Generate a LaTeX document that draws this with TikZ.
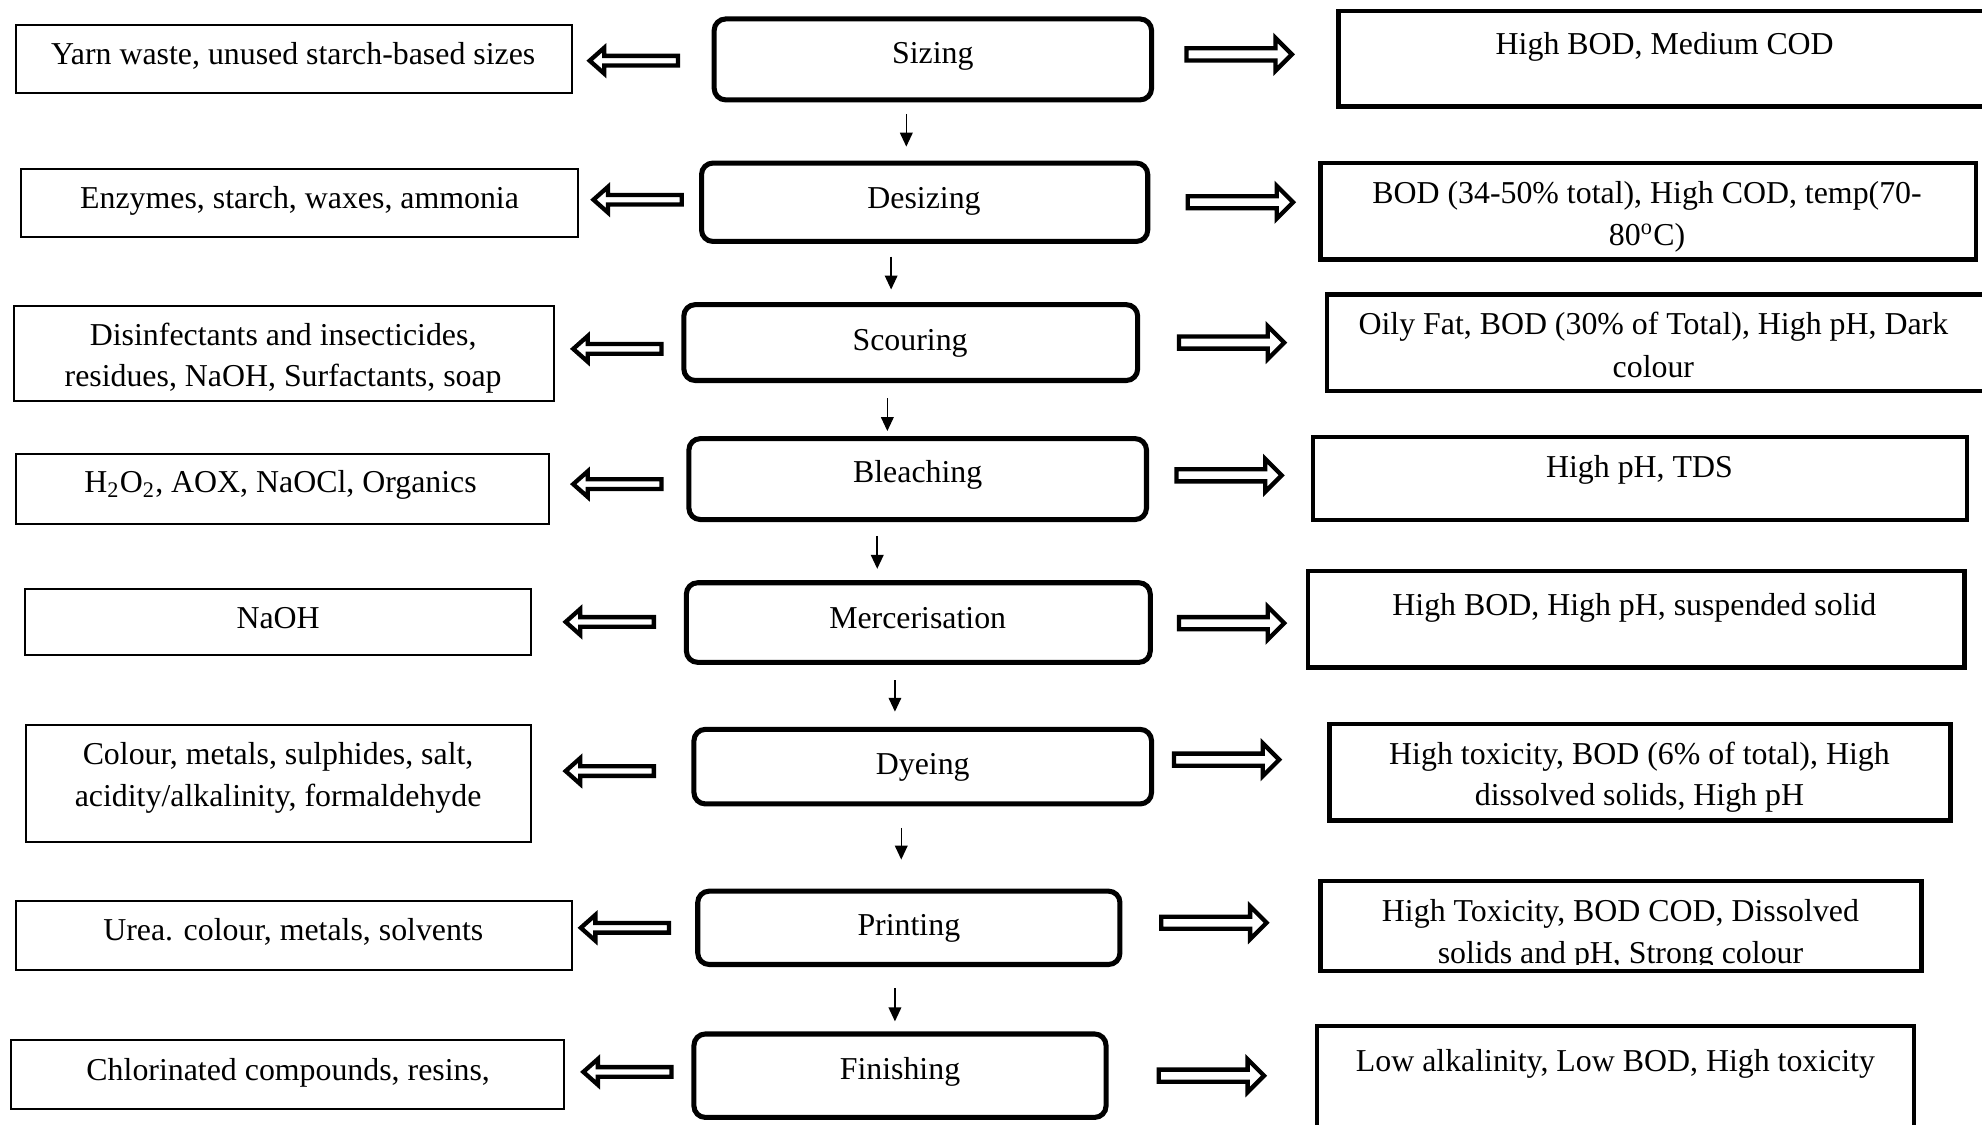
\documentclass[tikz,border=0pt]{standalone}
\usepackage{fontspec}
\setmainfont{Liberation Serif}
\usetikzlibrary{fit,arrows.meta}
\tikzset{
  cbox/.style={draw, line width=2pt, rounded corners=4.5pt, inner sep=0pt},
  lbox/.style={draw, line width=0.8pt, inner sep=0pt},
  rbox/.style={draw, line width=1.8pt, inner sep=0pt},
  txt/.style={inner sep=0pt, anchor=base, font=\fontsize{12.6}{15}\selectfont},
  harrow/.style={draw, fill=white, line width=1.7pt, line join=miter},
  darrow/.style={line width=0.6pt, -{Triangle[length=5.5pt,width=5pt]}},
}
\newcommand\rightblock[1]{\draw[harrow, shift={(#1)}] (1.7,-4.8) -- (72,-4.8) -- (72,-13) -- (85,0) -- (72,13) -- (72,4.8) -- (1.7,4.8) -- cycle;}
\newcommand\leftblock[1]{\draw[harrow, shift={(#1)}, xscale=-1] (1.7,-3.8) -- (60,-3.8) -- (60,-10.2) -- (71.5,0) -- (60,10.2) -- (60,3.8) -- (1.7,3.8) -- cycle;}
\begin{document}
\begin{tikzpicture}[x=0.5pt,y=-0.5pt]
\clip (0,0) rectangle (1568,890);
\fill[white] (0,0) rectangle (1568,890);

% centre process boxes
\node[cbox, fit={(565,15) (911,79)}] (C1) {};
\node[cbox, fit={(555,129) (908,191)}] (C2) {};
\node[cbox, fit={(541,241) (900,301)}] (C3) {};
\node[cbox, fit={(545,347) (907,411)}] (C4) {};
\node[cbox, fit={(543,461) (910,524)}] (C5) {};
\node[cbox, fit={(549,577) (911,636)}] (C6) {};
\node[cbox, fit={(552,705) (886,763)}] (C7) {};
\node[cbox, fit={(549,818) (875,884)}] (C8) {};

\node[txt] (tC1) at (738,50) {Sizing};
\node[txt] (tC2) at (731,165) {Desizing};
\node[txt] (tC3) at (720,277) {Scouring};
\node[txt] (tC4) at (726,382) {Bleaching};
\node[txt] (tC5) at (726,497) {Mercerisation};
\node[txt] (tC6) at (730,613) {Dyeing};
\node[txt] (tC7) at (719,740) {Printing};
\node[txt] (tC8) at (712,854) {Finishing};

% left boxes
\node[lbox, fit={(12.8,19.8) (452.2,73.2)}] (L1) {};
\node[lbox, fit={(16.8,133.8) (457.2,187.2)}] (L2) {};
\node[lbox, fit={(10.8,241.8) (438.2,317.2)}] (L3) {};
\node[lbox, fit={(12.8,358.8) (434.2,414.2)}] (L4) {};
\node[lbox, fit={(19.8,465.8) (420.2,518.2)}] (L5) {};
\node[lbox, fit={(20.8,573.8) (420.2,666.2)}] (L6) {};
\node[lbox, fit={(12.8,712.8) (452.2,767.2)}] (L7) {};
\node[lbox, fit={(8.8,822.8) (446.2,877.2)}] (L8) {};

\node[txt] (tL1) at (232,51) {Yarn waste, unused starch-based sizes};
\node[txt] (tL2) at (237,165) {Enzymes, starch, waxes, ammonia};
\node[txt] (tL3a) at (224,273) {Disinfectants and insecticides,};
\node[txt] (tL3b) at (224,306) {residues, NaOH, Surfactants, soap};
\node[txt] (tL4) at (222,390) {H\textsubscript{2}O\textsubscript{2}, AOX, NaOCl, Organics};
\node[txt] (tL5) at (220,497) {NaOH};
\node[txt] (tL6a) at (220,605) {Colour, metals, sulphides, salt,};
\node[txt] (tL6b) at (220,638) {acidity/alkalinity, formaldehyde};
\node[txt] (tL7) at (232,744) {Urea. colour, metals, solvents};
\node[txt] (tL8) at (228,855) {Chlorinated compounds, resins,};

% right boxes
\node[rbox, fit={(1058.8,8.8) (1580,84.2)}] (R1) {};
\node[rbox, fit={(1044.8,128.8) (1563.2,205.2)}] (R2) {};
\node[rbox, fit={(1049.8,232.8) (1572,309.2)}] (R3) {};
\node[rbox, fit={(1038.8,345.8) (1556.2,411.2)}] (R4) {};
\node[rbox, fit={(1034.8,451.8) (1554.2,528.2)}] (R5) {};
\node[rbox, fit={(1051.8,572.8) (1543.2,649.2)}] (R6) {};
\begin{scope}
  \clip (1040,690) rectangle (1525,763);
  \node[txt] (tR7b) at (1282,762) {solids and pH, Strong colour};
\end{scope}
\node[rbox, fit={(1044.8,696.8) (1520.2,768.2)}] (R7) {};
\node[rbox, fit={(1041.8,811.8) (1514.2,900)}] (R8) {};

\node[txt] (tR1) at (1317,43) {High BOD, Medium COD};
\node[txt] (tR2a) at (1303,161) {BOD (34-50\% total), High COD, temp(70-};
\node[txt] (tR2b) at (1303,194) {80\textsuperscript{o}C)};
\node[txt] (tR3a) at (1308,265) {Oily Fat, BOD (30\% of Total), High pH, Dark};
\node[txt] (tR3b) at (1308,299) {colour};
\node[txt] (tR4) at (1297,378) {High pH, TDS};
\node[txt] (tR5) at (1293,487) {High BOD, High pH, suspended solid};
\node[txt] (tR6a) at (1297,605) {High toxicity, BOD (6\% of total), High};
\node[txt] (tR6b) at (1297,637) {dissolved solids, High pH};
\node[txt] (tR7a) at (1282,729) {High Toxicity, BOD COD, Dissolved};
\node[txt] (tR8) at (1278,848) {Low alkalinity, Low BOD, High toxicity};

% block arrow tails
\coordinate (lt1) at (538,48);  \coordinate (rt1) at (937,43);
\coordinate (lt2) at (541,158); \coordinate (rt2) at (938,160);
\coordinate (lt3) at (525,276); \coordinate (rt3) at (931,271);
\coordinate (lt4) at (525,383); \coordinate (rt4) at (929,376);
\coordinate (lt5) at (519,492); \coordinate (rt5) at (931,493);
\coordinate (lt6) at (519,610); \coordinate (rt6) at (927,601);
\coordinate (lt7) at (531,734); \coordinate (rt7) at (917,730);
\coordinate (lt8) at (533,848); \coordinate (rt8) at (915,851);
\leftblock{lt1} \rightblock{rt1}
\leftblock{lt2} \rightblock{rt2}
\leftblock{lt3} \rightblock{rt3}
\leftblock{lt4} \rightblock{rt4}
\leftblock{lt5} \rightblock{rt5}
\leftblock{lt6} \rightblock{rt6}
\leftblock{lt7} \rightblock{rt7}
\leftblock{lt8} \rightblock{rt8}

% down arrows between process steps
\coordinate (d1s) at (717,90);  \coordinate (d1e) at (717,116);
\coordinate (d2s) at (705,203); \coordinate (d2e) at (705,229);
\coordinate (d3s) at (702,315); \coordinate (d3e) at (702,341);
\coordinate (d4s) at (694,424); \coordinate (d4e) at (694,450);
\coordinate (d5s) at (708,538); \coordinate (d5e) at (708,563);
\coordinate (d6s) at (713,655); \coordinate (d6e) at (713,680);
\coordinate (d7s) at (708,782); \coordinate (d7e) at (708,808);
\foreach \i in {1,...,7} {\draw[darrow] (d\i s) -- (d\i e);}
\end{tikzpicture}
\end{document}
